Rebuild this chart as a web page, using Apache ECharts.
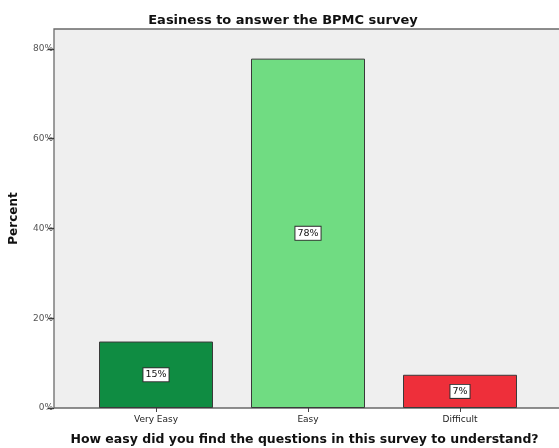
<!DOCTYPE html>
<html>
<head>
<meta charset="utf-8">
<script src="https://cdn.jsdelivr.net/npm/echarts@6/dist/echarts.min.js"></script>
<style>
  html, body { margin: 0; padding: 0; background: #ffffff; }
  #chart { width: 559px; height: 448px; }
</style>
</head>
<body>
<div id="chart"></div>
<script>
// Survey responses: share of respondents per difficulty level
const categories = ['Very Easy', 'Easy', 'Difficult'];
const percentValues = [14.8, 77.8, 7.4];
const barColors = ['#0f8c42', '#70dc82', '#ee2f3a'];
const yTickValues = [0, 20, 40, 60, 80];

const chart = echarts.init(document.getElementById('chart'), null, { renderer: 'canvas' });

const FONT = 'DejaVu Sans';
const PLOT_TOP = 29;
const PLOT_BOTTOM = 40;

chart.setOption({
  animation: false,
  backgroundColor: '#ffffff',
  title: {
    text: 'Easiness to answer the BPMC survey',
    left: 278,
    top: 9,
    textAlign: 'center',
    textStyle: { fontFamily: FONT, fontSize: 13, fontWeight: 'bold', color: '#111' }
  },
  grid: [
    // plot frame with grey fill
    { left: 54, right: -4, top: PLOT_TOP, bottom: PLOT_BOTTOM, show: true,
      backgroundColor: '#efefef', borderColor: '#6a6a6a', borderWidth: 1.3, z: 0,
      outerBoundsMode: 'none' },
    // bar area, narrower than the frame so bars sit with side margins
    { left: 80, width: 456, top: PLOT_TOP, bottom: PLOT_BOTTOM, outerBoundsMode: 'none' }
  ],
  xAxis: [
    { gridIndex: 0, type: 'value', min: 0, max: 1, show: false },
    {
      gridIndex: 1,
      type: 'category',
      data: categories,
      axisLine: { show: false },
      axisTick: { show: true, alignWithLabel: true, length: 4, inside: false,
        lineStyle: { color: '#444', width: 1 } },
      axisLabel: { fontFamily: FONT, fontSize: 9, color: '#222', margin: 7 },
      name: 'How easy did you find the questions in this survey to understand?',
      nameLocation: 'middle',
      nameGap: 25,
      nameTextStyle: { fontFamily: FONT, fontSize: 12.5, fontWeight: 'bold', color: '#111',
        padding: [0, 7, 0, 0] }
    }
  ],
  yAxis: [
    { gridIndex: 0, type: 'value', min: 0, max: 1, show: false },
    {
      gridIndex: 1,
      type: 'value',
      min: 0,
      max: 84.4,
      interval: 20,
      offset: 26,
      axisLine: { show: false },
      axisTick: { show: true, length: 6, customValues: yTickValues,
        lineStyle: { color: '#333', width: 1.3 } },
      axisLabel: { fontFamily: FONT, fontSize: 9, color: '#555', margin: 1,
        customValues: yTickValues,
        formatter: v => v + '%' },
      splitLine: { show: false },
      name: 'Percent',
      nameLocation: 'middle',
      nameGap: 34,
      nameRotate: 90,
      nameTextStyle: { fontFamily: FONT, fontSize: 12, fontWeight: 'bold', color: '#111' }
    }
  ],
  series: [{
    type: 'bar',
    xAxisIndex: 1,
    yAxisIndex: 1,
    barWidth: 114,
    data: percentValues.map((v, i) => ({
      value: v,
      itemStyle: { color: barColors[i] }
    })),
    itemStyle: { borderColor: '#3a3a3a', borderWidth: 1 },
    label: {
      show: true,
      position: 'inside',
      formatter: p => Math.round(p.value) + '%',
      fontFamily: FONT,
      fontSize: 9.5,
      color: '#111',
      backgroundColor: '#ffffff',
      borderColor: '#333',
      borderWidth: 1,
      padding: [2, 2, 1, 2]
    },
    z: 3
  }]
});
</script>
</body>
</html>
